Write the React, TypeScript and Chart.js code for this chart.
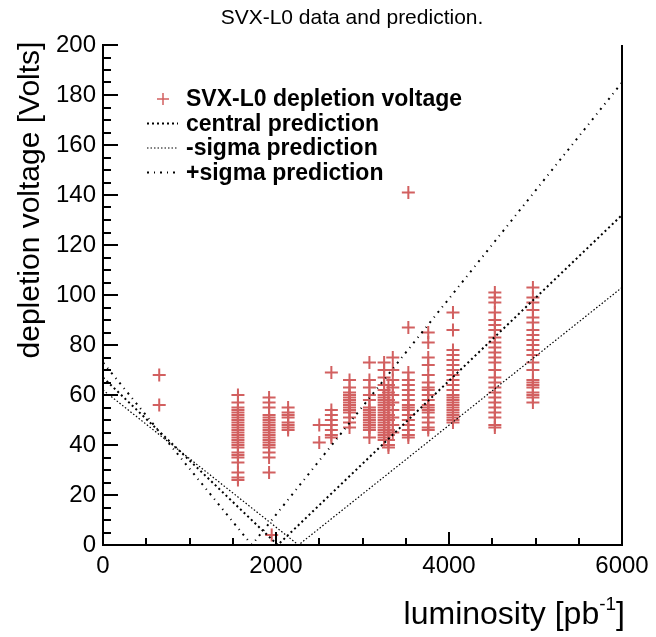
import React, { useEffect, useRef } from "react";
import { Chart, registerables } from "chart.js";

Chart.register(...registerables);

// ---- data ----
const v650 = [68, 56];
const v1560 = [60, 57, 55, 54, 53, 52, 51, 50, 49, 48, 47, 46, 45, 44, 43, 42, 41, 40, 39, 37, 36, 35, 33, 29, 27, 26];
const v1920 = [59, 57, 55, 52, 51, 50, 49, 48, 47, 46, 45, 44, 43, 42, 41, 40, 39, 37, 35, 29];
const v1950 = [4];
const v2140 = [55, 53, 52, 51, 49, 48, 47, 46];
const v2500 = [48, 41];
const v2640 = [69, 54, 52, 50, 48, 46, 44, 43];
const v2850 = [66, 63, 61, 60, 59, 58, 57, 56, 55, 54, 53, 51, 49, 47];
const v3080 = [73, 66, 63, 60, 58, 55, 54, 53, 52, 51, 50, 49, 48, 47, 46, 43];
const v3250 = [73, 70, 67, 64, 62, 60, 59, 58, 57, 56, 55, 54, 53, 52, 51, 50, 49, 48, 47, 46, 45, 44, 43, 42];
const v3300 = [64, 61, 58, 56, 54, 52, 50, 48, 46, 44, 42, 40, 39];
const v3350 = [75, 70, 66, 63, 60, 57, 54, 51, 48, 45];
const v3530 = [141, 87, 69, 66, 64, 62, 60, 58, 56, 55, 54, 52, 50, 48, 46, 44, 43];
const v3760 = [85, 81, 75, 72, 68, 65, 63, 62, 60, 58, 56, 55, 54, 53, 51, 49, 47, 46];
const v4046 = [93, 86, 78, 76, 74, 72, 70, 68, 66, 64, 62, 60, 59, 58, 57, 56, 55, 54, 53, 52, 51, 50, 49];
const v4530 = [101, 99, 97, 93, 90, 88, 86, 83, 81, 79, 77, 75, 73, 70, 67, 65, 63, 61, 59, 57, 55, 53, 51, 48, 47];
const v4970 = [103, 99, 97, 94, 91, 89, 86, 84, 82, 80, 78, 76, 73, 70, 66, 65, 64, 63, 61, 60, 59, 57];

const columnLum = [650, 1560, 1920, 1950, 2140, 2500, 2640, 2850, 3080, 3250, 3300, 3350, 3530, 3760, 4046, 4530, 4970];
const columnVolts = [v650, v1560, v1920, v1950, v2140, v2500, v2640, v2850, v3080, v3250, v3300, v3350, v3530, v3760, v4046, v4530, v4970];

// prediction curves (luminosity, voltage)
const centralLum = [0, 2020, 6000];
const centralV = [67, 0, 132];
const minusLum = [0, 2260, 6000];
const minusV = [62, 0, 103];
const plusLum = [0, 1720, 6000];
const plusV = [73, 0, 185];

const xTicks = [0, 2000, 4000, 6000];
const yTicks = [0, 20, 40, 60, 80, 100, 120, 140, 160, 180, 200];

const legendLabels = [
  "SVX-L0 depletion voltage",
  "central prediction",
  "-sigma prediction",
  "+sigma prediction",
];

const FONT = "'Liberation Sans', Arial, Helvetica, sans-serif";
const RED = "rgb(210,96,96)";

const centralDash = [2, 3];
const minusDash = [1.5, 2];
const plusDash = [2, 5, 1, 5];

export default function App() {
  const ref = useRef<HTMLCanvasElement | null>(null);

  useEffect(() => {
    if (!ref.current) return;
    const pts: { x: number; y: number }[] = [];
    columnLum.forEach((l, i) => columnVolts[i].forEach((v) => pts.push({ x: l, y: v })));
    const mk = (ls: number[], vs: number[]) => ls.map((l, i) => ({ x: l, y: vs[i] }));

    const overlay = {
      id: "overlay",
      afterDraw(chart: any) {
        const ctx = chart.ctx;
        const xs = chart.scales.x;
        const ys = chart.scales.y;
        const { left, right, top, bottom } = chart.chartArea;
        ctx.save();
        ctx.strokeStyle = "#000";
        ctx.lineWidth = 2;
        ctx.beginPath();
        ctx.moveTo(left, top - 1);
        ctx.lineTo(left, bottom);
        ctx.lineTo(right, bottom);
        ctx.lineTo(right, top);
        ctx.stroke();
        // ticks
        ctx.lineWidth = 2;
        ctx.beginPath();
        for (let v = 0; v <= 200; v += 5) {
          const y = Math.round(ys.getPixelForValue(v));
          const len = v % 20 === 0 ? 15 : 8;
          ctx.moveTo(left, y);
          ctx.lineTo(left + len, y);
        }
        for (let l = 0; l <= 6000; l += 500) {
          const x = Math.round(xs.getPixelForValue(l));
          const len = l % 2000 === 0 ? 13 : 7;
          ctx.moveTo(x, bottom);
          ctx.lineTo(x, bottom - len);
        }
        ctx.stroke();

        // title
        ctx.fillStyle = "#000";
        ctx.font = `21px ${FONT}`;
        ctx.textAlign = "center";
        ctx.textBaseline = "alphabetic";
        ctx.fillText("SVX-L0 data and prediction.", 352, 24);

        // y title
        ctx.save();
        ctx.translate(39, 200);
        ctx.rotate(-Math.PI / 2);
        ctx.font = `30px ${FONT}`;
        ctx.textAlign = "center";
        ctx.fillText("depletion voltage [Volts]", 0, 0);
        ctx.restore();

        // x title
        ctx.font = `32px ${FONT}`;
        ctx.textAlign = "left";
        const part1 = "luminosity [pb";
        const w1 = ctx.measureText(part1).width;
        ctx.font = `19px ${FONT}`;
        const sup = "-1";
        const ws = ctx.measureText(sup).width;
        ctx.font = `32px ${FONT}`;
        const wb = ctx.measureText("]").width;
        const total = w1 + ws + wb;
        const x0 = 625 - total;
        const base = 624;
        ctx.fillText(part1, x0, base);
        ctx.font = `19px ${FONT}`;
        ctx.fillText(sup, x0 + w1, base - 14);
        ctx.font = `32px ${FONT}`;
        ctx.fillText("]", x0 + w1 + ws, base);

        // legend
        const rows = [99, 123.5, 148, 172.5];
        ctx.font = `bold 23px ${FONT}`;
        ctx.textBaseline = "middle";
        ctx.textAlign = "left";
        legendLabels.forEach((t, i) => ctx.fillText(t, 186, rows[i] + 1));
        ctx.strokeStyle = RED;
        ctx.lineWidth = 1.5;
        ctx.beginPath();
        ctx.moveTo(157, rows[0]);
        ctx.lineTo(169, rows[0]);
        ctx.moveTo(163, rows[0] - 6);
        ctx.lineTo(163, rows[0] + 6);
        ctx.stroke();
        const samples: [number[], number][] = [
          [centralDash, 2],
          [minusDash, 1.2],
          [plusDash, 2],
        ];
        ctx.strokeStyle = "#000";
        samples.forEach(([d, w], i) => {
          ctx.setLineDash(d);
          ctx.lineWidth = w;
          ctx.beginPath();
          ctx.moveTo(147, rows[i + 1]);
          ctx.lineTo(178, rows[i + 1]);
          ctx.stroke();
        });
        ctx.setLineDash([]);
        ctx.restore();
      },
    };

    const chart = new Chart(ref.current, {
      type: "scatter",
      data: {
        datasets: [
          {
            label: legendLabels[1],
            data: mk(centralLum, centralV),
            showLine: true,
            pointRadius: 0,
            borderColor: "#000",
            borderWidth: 2,
            borderDash: centralDash,
            order: 0,
          },
          {
            label: legendLabels[2],
            data: mk(minusLum, minusV),
            showLine: true,
            pointRadius: 0,
            borderColor: "#000",
            borderWidth: 1.2,
            borderDash: minusDash,
            order: 0,
          },
          {
            label: legendLabels[3],
            data: mk(plusLum, plusV),
            showLine: true,
            pointRadius: 0,
            borderColor: "#000",
            borderWidth: 2,
            borderDash: plusDash,
            order: 0,
          },
          {
            label: legendLabels[0],
            data: pts,
            pointStyle: "cross",
            pointRadius: 6.5,
            pointBorderWidth: 2,
            borderColor: RED,
            backgroundColor: RED,
            order: 1,
          } as any,
        ],
      },
      options: {
        animation: false,
        responsive: false,
        devicePixelRatio: 1,
        layout: { padding: { top: 45, right: 34, left: 0, bottom: 0 } },
        plugins: {
          legend: { display: false },
          tooltip: { enabled: false },
        },
        scales: {
          x: {
            type: "linear",
            min: 0,
            max: 6000,
            afterFit: (s: any) => {
              s.height = 92;
            },
            afterBuildTicks: (s: any) => {
              s.ticks = xTicks.map((v) => ({ value: v }));
            },
            ticks: {
              font: { family: FONT, size: 24 },
              color: "#000",
              padding: 7,
              maxRotation: 0,
              autoSkip: false,
              callback: (v: any) => String(v),
            },
            grid: { display: false, drawTicks: false },
            border: { display: false },
          },
          y: {
            type: "linear",
            min: 0,
            max: 200,
            afterFit: (s: any) => {
              s.width = 103;
            },
            afterBuildTicks: (s: any) => {
              s.ticks = yTicks.map((v) => ({ value: v }));
            },
            ticks: {
              font: { family: FONT, size: 24 },
              color: "#000",
              padding: 7,
              autoSkip: false,
              callback: (v: any) => String(v),
            },
            grid: { display: false, drawTicks: false },
            border: { display: false },
          },
        },
      },
      plugins: [overlay],
    } as any);
    return () => chart.destroy();
  }, []);

  return (
    <div style={{ position: "fixed", left: 0, top: 0, width: 656, height: 637, background: "#fff" }}>
      <canvas ref={ref} width={656} height={637} />
    </div>
  );
}
